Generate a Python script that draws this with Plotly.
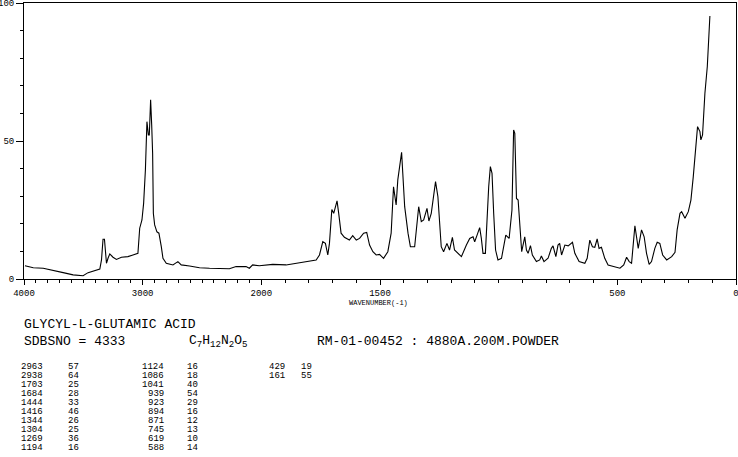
import plotly.graph_objects as go

# ---------------- data ----------------
wavenumber = [3992, 3922, 3838, 3754, 3670, 3586, 3502, 3460, 3403, 3361, 3347, 3334, 3322, 3317,
              3305, 3292, 3277, 3250, 3221, 3179, 3124, 3082, 3040, 3025, 3006, 2992, 2977, 2964,
              2952, 2944, 2933, 2924, 2916, 2910, 2899, 2880, 2863, 2843, 2829, 2801, 2745, 2703,
              2675, 2605, 2521, 2437, 2353, 2269, 2213, 2185, 2129, 2101, 2073, 2017, 1952, 1896,
              1853, 1825, 1769, 1755, 1741, 1730, 1720, 1713, 1703, 1695, 1681, 1674, 1664, 1650,
              1629, 1615, 1600, 1586, 1569, 1556, 1544, 1530, 1516, 1502, 1485, 1467, 1453, 1443,
              1436, 1432, 1425, 1415, 1409, 1404, 1396, 1382, 1372, 1354, 1347, 1337, 1326, 1316,
              1302, 1294, 1284, 1266, 1256, 1249, 1242, 1232, 1218, 1207, 1195, 1186, 1172, 1157,
              1136, 1122, 1108, 1101, 1091, 1080, 1073, 1066, 1056, 1052, 1042, 1035, 1028, 1021,
              1013, 1003, 988, 970, 956, 944, 937, 932, 925, 918, 911, 903, 890, 883, 876, 866,
              858, 841, 827, 820, 809, 792, 778, 771, 759, 750, 743, 735, 721, 707, 689, 679, 661,
              637, 627, 616, 605, 595, 585, 577, 567, 553, 539, 511, 489, 473, 461, 450, 440, 426,
              419, 412, 398, 387, 377, 366, 356, 342, 332, 321, 309, 292, 271, 257, 248, 236, 229,
              215, 201, 190, 180, 169, 162, 152, 148, 141, 131, 121, 110]
intensity = [4.8, 4.1, 3.9, 3.0, 2.3, 1.5, 1.2, 2.3, 3.0, 3.6, 6.9, 14.4, 14.4, 10.5,
             5.7, 7.5, 9.1, 7.9, 7.1, 7.9, 8.1, 8.7, 9.3, 18.4, 21.4, 27.4, 39.5, 57.0,
             52.2, 52.2, 64.9, 55.8, 45.5, 23.8, 19.6, 17.1, 16.6, 11.7, 7.5, 5.7, 5.1, 6.3,
             5.1, 4.7, 4.1, 3.9, 3.9, 3.7, 4.5, 4.5, 4.5, 3.9, 5.1, 4.8, 5.3, 5.1,
             5.7, 6.3, 6.9, 8.7, 13.5, 12.9, 8.7, 12.9, 25.2, 23.8, 28.3, 23.8, 16.6, 15.1,
             14.1, 15.7, 14.1, 14.7, 16.6, 16.9, 12.3, 9.9, 8.7, 8.9, 7.5, 9.9, 16.6, 33.4,
             29.8, 26.8, 35.9, 43.1, 45.9, 38.3, 26.2, 16.6, 11.7, 11.7, 17.8, 26.2, 20.8, 21.4,
             25.6, 21.0, 23.8, 35.3, 29.8, 19.0, 11.7, 9.9, 12.9, 10.5, 15.1, 10.5, 9.3, 8.1,
             12.3, 14.7, 15.3, 13.5, 15.9, 18.6, 14.7, 9.3, 9.3, 16.6, 33.4, 40.7, 38.3, 23.8,
             10.5, 6.9, 7.5, 15.9, 14.7, 25.0, 54.0, 52.8, 29.2, 28.6, 19.0, 9.9, 15.3, 10.5, 9.3, 12.1,
             8.7, 6.3, 6.9, 8.3, 6.3, 7.5, 11.1, 12.0, 8.1, 12.3, 12.9, 8.7, 12.3, 12.0, 13.3, 9.3, 6.3,
             5.7, 7.5, 14.1, 11.7, 11.5, 14.5, 11.1, 11.5, 7.5, 5.1, 4.5, 3.9, 5.1, 7.9, 6.3, 5.7, 19.3,
             14.1, 11.1, 17.8, 15.3, 9.3, 5.3, 6.3, 11.1, 13.3, 12.9, 8.7, 6.9, 8.1, 9.7, 17.8, 23.8, 24.4,
             22.0, 24.4, 28.6, 37.1, 46.7, 55.2, 53.4, 50.4, 52.2, 67.3, 76.9, 95.3]

x_tick_values = [4000, 3000, 2000, 1500, 500, 0]
x_tick_labels = ["4000", "3000", "2000", "1500", "500", "0"]
y_tick_values = [0, 50, 100]
y_tick_labels = ["0", "50", "100"]

compound_name = "GLYCYL-L-GLUTAMIC ACID"
sdbs_line = "SDBSNO = 4333"
formula = "C<sub>7</sub>H<sub>12</sub>N<sub>2</sub>O<sub>5</sub>"
sample_info = "RM-01-00452 : 4880A.200M.POWDER"
axis_title = "WAVENUMBER(-1)"

peak_wn_col1 = ["2963", "2938", "1703", "1684", "1444", "1416", "1344", "1304", "1269", "1194"]
peak_int_col1 = ["57", "64", "25", "28", "33", "46", "26", "25", "36", "16"]
peak_wn_col2 = ["1124", "1086", "1041", "939", "923", "894", "871", "745", "619", "588"]
peak_int_col2 = ["16", "18", "40", "54", "29", "16", "12", "13", "10", "14"]
peak_wn_col3 = ["429", "161"]
peak_int_col3 = ["19", "55"]


# ---------------- axis transform (4000-2000 at half scale) ----------------
def tx(w):
    return w if w <= 2000 else 2000 + (w - 2000) / 2.0


W, H = 738, 457
ML, MR, MT, MB = 24, 2, 3, 178
PW, PH = W - ML - MR, H - MT - MB
FONT = "Liberation Mono"


def px(xp):
    return (xp - ML) / PW


def py(yp):
    return (H - MB - yp) / PH


fig = go.Figure()
fig.add_trace(go.Scatter(x=[tx(w) for w in wavenumber], y=intensity, mode="lines",
                         line=dict(color="black", width=1.1), hoverinfo="skip", showlegend=False))

minor_x = [tx(w) for w in range(0, 4001, 100) if w not in x_tick_values]

fig.update_layout(
    width=W, height=H, margin=dict(l=ML, r=MR, t=MT, b=MB, autoexpand=False),
    paper_bgcolor="white", plot_bgcolor="white", showlegend=False,
    font=dict(family=FONT, color="black"),
    xaxis=dict(range=[tx(4000), tx(0)], tickmode="array", automargin=False,
               tickvals=[tx(v) for v in x_tick_values], ticktext=x_tick_labels,
               ticks="outside", ticklen=5, tickwidth=1, tickcolor="black",
               showline=True, linecolor="black", linewidth=1, mirror=True,
               showgrid=False, zeroline=False, tickfont=dict(size=9, family=FONT),
               ticklabeloverflow="allow",
               minor=dict(tickmode="array", tickvals=minor_x, ticks="outside",
                          ticklen=3, tickwidth=1, tickcolor="black", showgrid=False)),
    yaxis=dict(range=[0, 100], tickmode="array", automargin=False,
               tickvals=y_tick_values, ticktext=y_tick_labels,
               ticks="outside", ticklen=7, tickwidth=1, tickcolor="black",
               showline=True, linecolor="black", linewidth=1, mirror=True,
               showgrid=False, zeroline=False, tickfont=dict(size=9, family=FONT),
               ticklabeloverflow="allow",
               minor=dict(dtick=10, tick0=0, ticks="outside", ticklen=3, tickwidth=1,
                          tickcolor="black", showgrid=False)),
)

ann = []


def add_text(text, xp, yp, size, anchor="left"):
    ann.append(dict(text=text, x=px(xp), y=py(yp), xref="paper", yref="paper",
                    xanchor=anchor, yanchor="middle", showarrow=False,
                    font=dict(size=size, family=FONT, color="black")))


add_text(axis_title, 378, 303, 7, "center")
add_text(compound_name, 22, 324, 13)
add_text(sdbs_line, 22, 341, 13)
add_text(formula, 187, 341, 13)
add_text(sample_info, 315, 341, 13)

row_y0, row_dy = 366.5, 9.1
for i in range(len(peak_wn_col1)):
    yy = row_y0 + i * row_dy
    add_text(peak_wn_col1[i], 45, yy, 9, "right")
    add_text(peak_int_col1[i], 66, yy, 9)
    add_text(peak_wn_col2[i], 166, yy, 9, "right")
    add_text(peak_int_col2[i], 185, yy, 9)
for i in range(len(peak_wn_col3)):
    yy = row_y0 + i * row_dy
    add_text(peak_wn_col3[i], 287, yy, 9, "right")
    add_text(peak_int_col3[i], 299, yy, 9)

fig.update_layout(annotations=ann)
fig.write_html("out.html")
